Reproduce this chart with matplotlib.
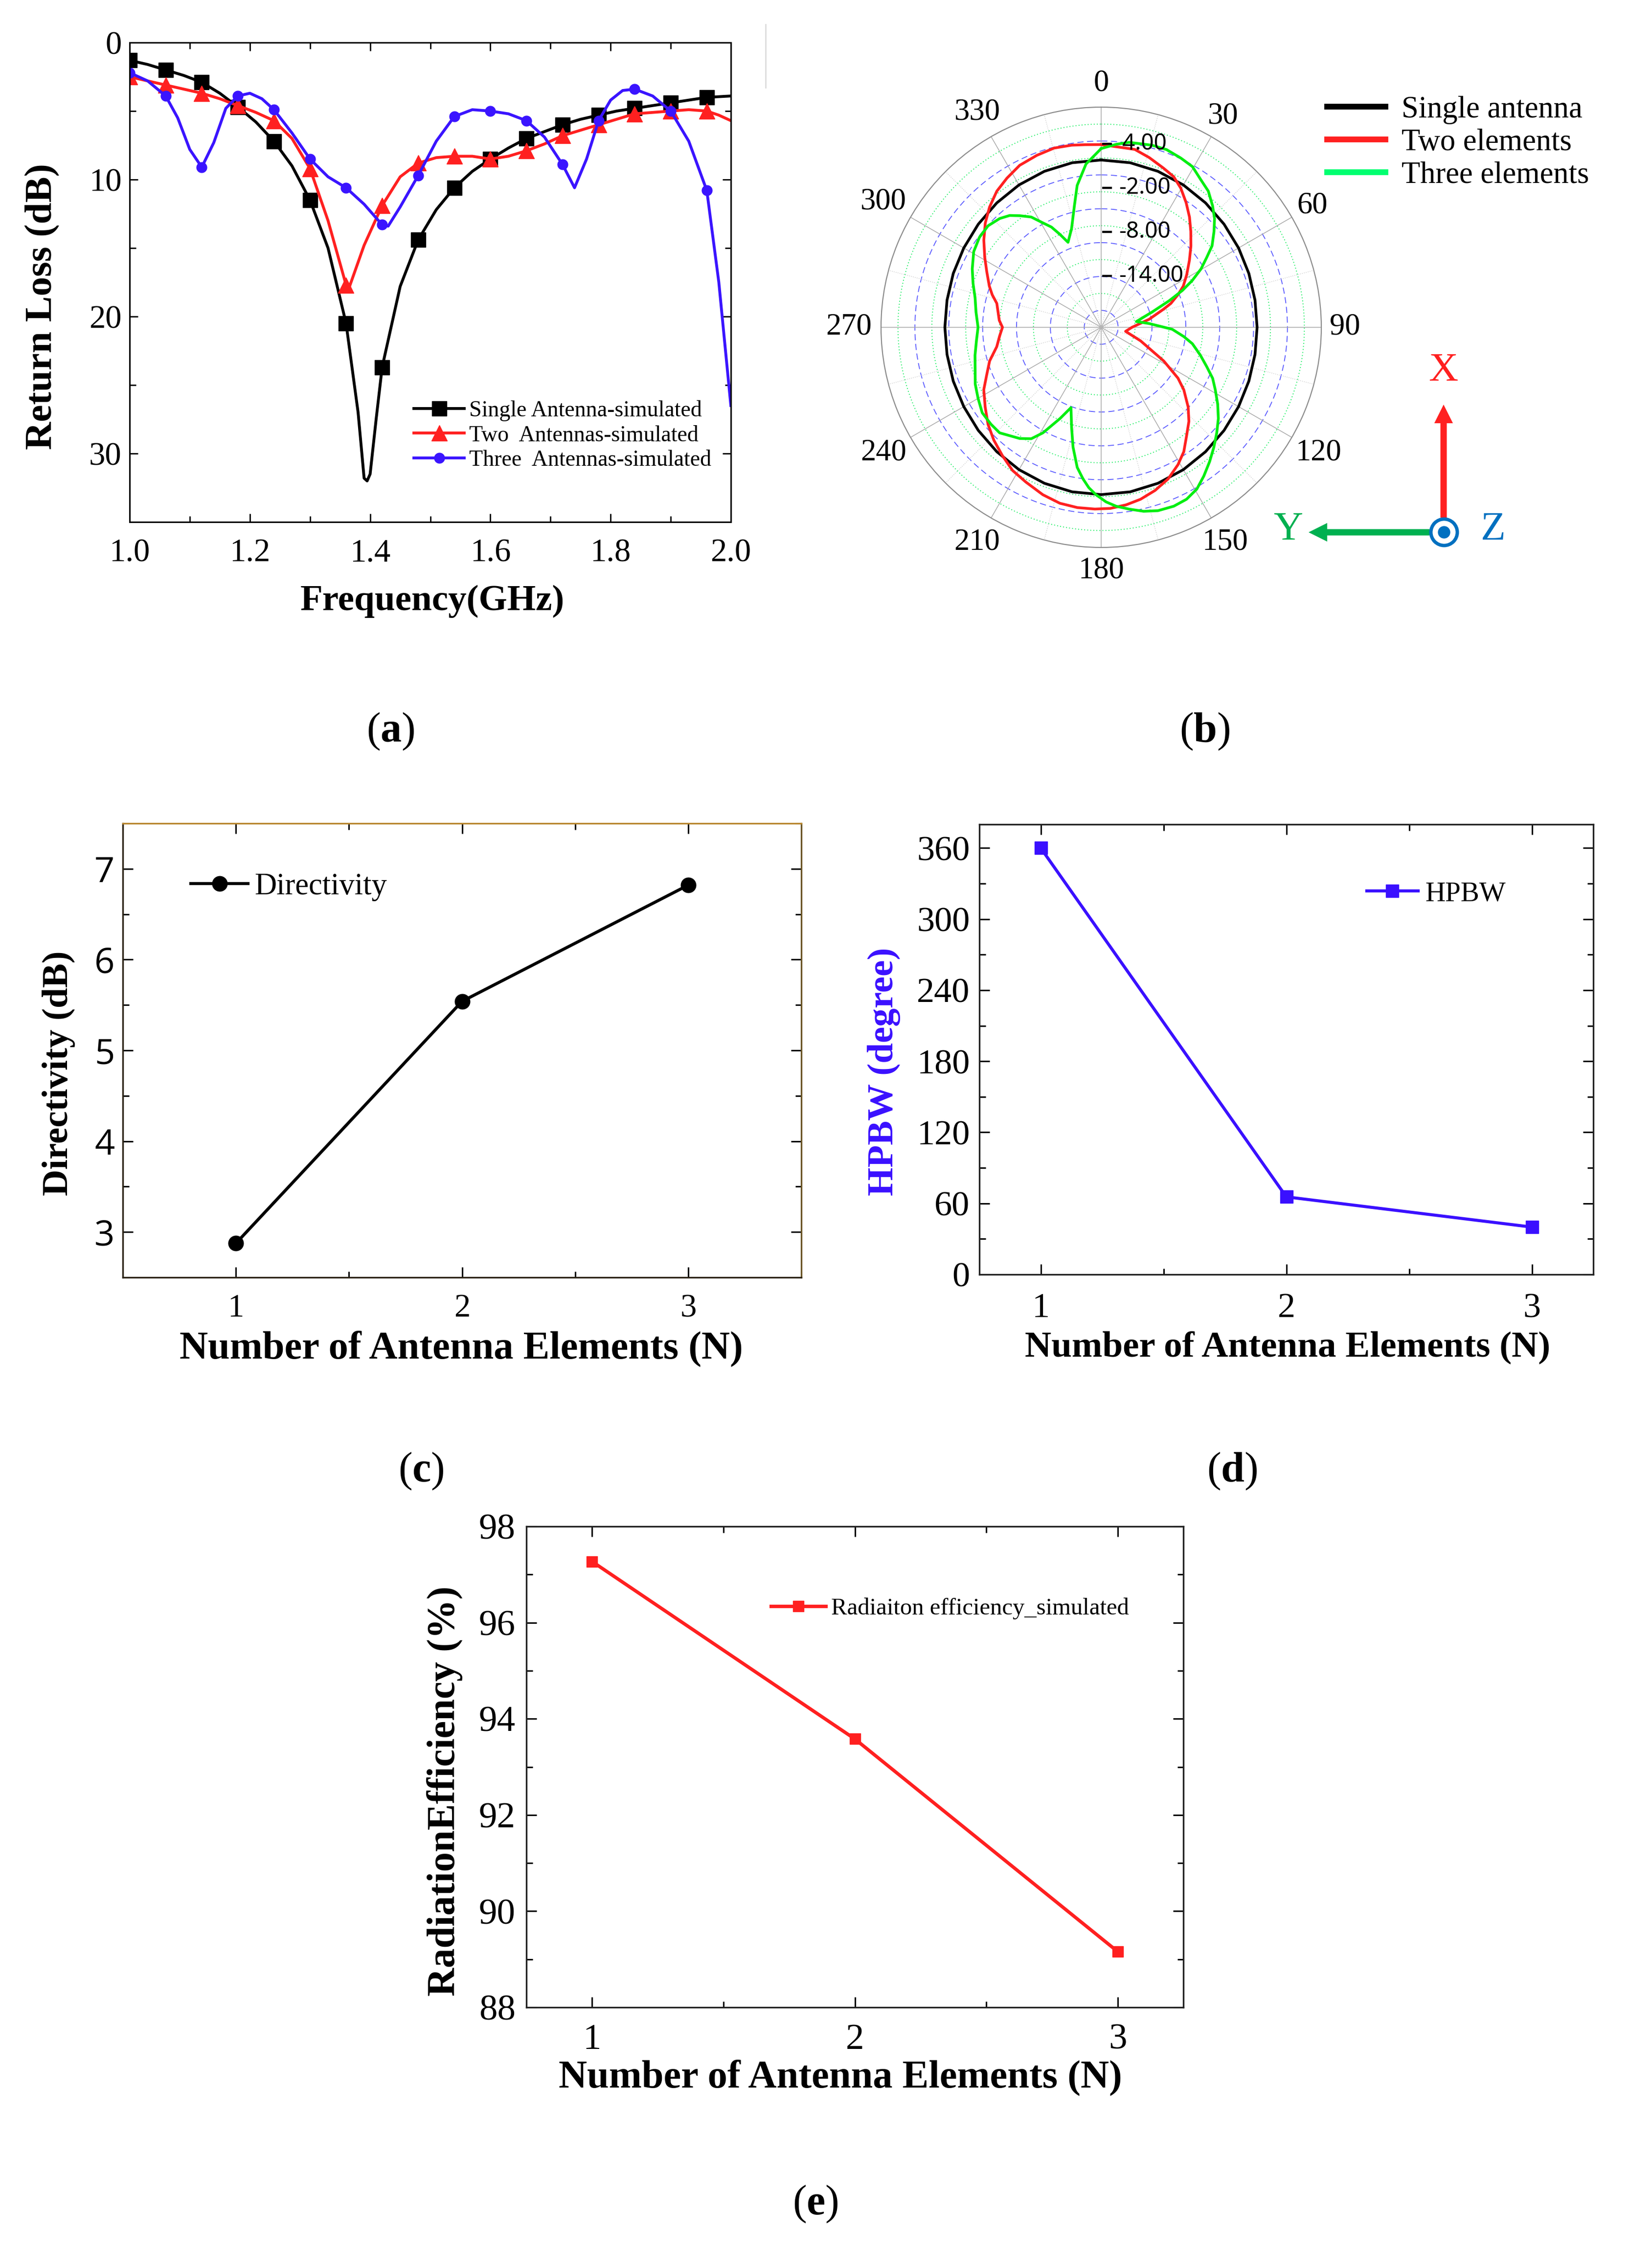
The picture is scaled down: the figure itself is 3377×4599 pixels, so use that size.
import numpy as np
import matplotlib
matplotlib.use('Agg')
import matplotlib.pyplot as plt
from matplotlib.lines import Line2D
from matplotlib.patches import FancyArrow, Circle
from matplotlib.ticker import MultipleLocator, FixedLocator
from matplotlib.transforms import offset_copy

W, H = 3377, 4599

# ---------------- (a) return loss ----------------
FREQ_MARKS = [1.00, 1.06, 1.12, 1.18, 1.24, 1.30, 1.36, 1.42, 1.48,
              1.54, 1.60, 1.66, 1.72, 1.78, 1.84, 1.90, 1.96]

freq_single = [1.00, 1.03, 1.06, 1.09, 1.12, 1.15, 1.18, 1.21, 1.24, 1.27,
               1.30, 1.33, 1.36, 1.38, 1.39, 1.395, 1.40, 1.41, 1.42, 1.45,
               1.48, 1.51, 1.54, 1.57, 1.60, 1.63, 1.66, 1.69, 1.72, 1.75,
               1.78, 1.81, 1.84, 1.87, 1.90, 1.93, 1.96, 2.00]
rl_single = [1.3, 1.6, 2.0, 2.4, 2.9, 3.7, 4.7, 5.8, 7.2, 9.0,
             11.5, 15.0, 20.5, 27.0, 31.8, 32.0, 31.5, 27.5, 23.7, 17.8,
             14.4, 12.2, 10.6, 9.4, 8.5, 7.7, 7.0, 6.5, 6.0, 5.6,
             5.3, 5.0, 4.8, 4.6, 4.4, 4.2, 4.0, 3.9]

freq_two = [1.00, 1.03, 1.06, 1.09, 1.12, 1.15, 1.18, 1.21, 1.24, 1.27,
            1.30, 1.33, 1.36, 1.365, 1.39, 1.42, 1.45, 1.48, 1.51, 1.54,
            1.57, 1.60, 1.63, 1.66, 1.69, 1.72, 1.75, 1.78, 1.81, 1.84,
            1.87, 1.90, 1.93, 1.96, 1.98, 2.00]
rl_two = [2.5, 2.8, 3.1, 3.4, 3.7, 4.1, 4.6, 5.1, 5.7, 7.0,
          9.2, 13.0, 17.7, 17.9, 14.8, 11.9, 9.8, 8.8, 8.4, 8.3,
          8.3, 8.5, 8.3, 7.9, 7.4, 6.8, 6.4, 6.0, 5.6, 5.2,
          5.1, 5.0, 4.9, 5.0, 5.3, 5.7]

freq_three = [1.00, 1.03, 1.06, 1.08, 1.10, 1.12, 1.14, 1.16, 1.18, 1.20,
              1.22, 1.24, 1.27, 1.30, 1.33, 1.36, 1.39, 1.42, 1.43, 1.45,
              1.48, 1.51, 1.54, 1.57, 1.60, 1.63, 1.66, 1.69, 1.72, 1.74,
              1.76, 1.78, 1.80, 1.82, 1.84, 1.87, 1.90, 1.93, 1.96, 1.98, 2.00]
rl_three = [2.2, 2.8, 3.9, 5.5, 7.8, 9.1, 7.3, 4.8, 3.9, 3.7,
            4.1, 4.9, 6.6, 8.5, 9.8, 10.6, 11.8, 13.3, 13.4, 12.0,
            9.7, 7.2, 5.4, 4.9, 5.0, 5.2, 5.7, 6.9, 8.9, 10.6,
            8.5, 5.7, 4.2, 3.5, 3.4, 3.9, 5.0, 7.2, 10.8, 17.5, 26.5]

# ---------------- (b) radiation pattern (dB) ----------------
ang_single = list(range(0, 361, 10))
pat_single = [1.8, 1.77, 1.62, 1.4, 1.13, 0.86, 0.62, 0.42, 0.29, 0.25,
              0.29, 0.42, 0.62, 0.86, 1.13, 1.4, 1.62, 1.77, 1.8,
              1.77, 1.62, 1.4, 1.13, 0.86, 0.62, 0.45, 0.33, 0.3,
              0.33, 0.45, 0.62, 0.86, 1.13, 1.4, 1.62, 1.77, 1.8]

ang_two = [0, 10.7, 15.8, 21.4, 25.7, 29.8, 34.3, 38.7, 43.1, 47.8, 52.8,
           58.4, 63.4, 67, 71.1, 73.8, 80.5, 90, 99.4, 109, 118.3, 123.5,
           127.1, 132.5, 137, 141.8, 146.4, 150.8, 156.2, 161.7, 167.1, 172,
           177.1, 182, 187.5, 193.2, 199.2, 206, 211.8, 217.5, 223.6, 229.4,
           235.5, 242, 247.2, 253.2, 259.5, 265.2, 270, 273.9, 282.9, 286.6,
           290.2, 295.9, 301, 306.6, 312, 317.1, 322.5, 327.7, 333.3, 339.5,
           345.3, 350.8, 355, 360]
pat_two = [3.9, 3.67, 3.04, 2.29, 1.78, 0.84, -0.45, -1.75, -3.12, -4.49,
           -5.9, -7.31, -8.49, -9.63, -10.96, -12.14, -14.37, -16.8, -17.63,
           -15.31, -11.31, -8.45, -6.88, -4.92, -3.47, -2.18, -0.65, 0.45,
           1.59, 2.41, 3.04, 3.43, 3.71, 3.78, 3.78, 3.63, 3.16, 2.45, 1.94,
           1.08, 0.22, -0.69, -1.82, -2.88, -4.06, -5.12, -6.53, -7.12, -7.55,
           -7.08, -6.41, -5.51, -4.76, -3.67, -2.49, -1.08, 0.25, 1.35, 2.37,
           3.04, 3.71, 4.02, 4.25, 4.14, 3.98, 3.9]

ang_three = [0, 0.6, 4.7, 8.6, 15.6, 20.2, 25.2, 29.6, 34, 38.2, 42.5, 46.2,
             49.7, 53.7, 56.5, 59.7, 62.8, 65.6, 68.6, 73.3, 80.7, 85.5, 91.6,
             96.4, 100.2, 105.7, 110.5, 114.6, 118.7, 123.4, 127.9, 132.4,
             136.8, 141.1, 145.4, 149.4, 153.6, 157.9, 162.8, 167, 171.3,
             175.2, 178.4, 181.8, 184.4, 186.8, 189.7, 193.2, 196.5, 200.6,
             204.3, 208.9, 212.1, 216.2, 220.2, 223.9, 228.7, 234.3, 240,
             245.8, 251.4, 257.5, 263.8, 270, 276.9, 283.2, 289, 294.4, 300.7,
             306.5, 311.9, 317, 320.7, 323.9, 327.6, 330.8, 333.6, 336.1,
             338.7, 343.3, 347.6, 350.4, 354.7, 360]
pat_three = [3.35, 3.43, 4.02, 4.49, 4.76, 4.8, 4.49, 4.18, 3.27, 2.61, 1.47,
             0.41, -0.84, -2.25, -3.75, -5.24, -7.04, -8.84, -11.0, -13.75,
             -16.14, -14.45, -11.31, -9.67, -8.37, -6.96, -5.63, -4.29, -3.27,
             -1.98, -0.76, 0.33, 1.43, 2.53, 3.63, 4.61, 5.16, 5.31, 5.16,
             4.73, 4.06, 3.47, 2.8, 1.82, 0.92, -0.18, -1.63, -4.22, -6.8,
             -9.31, -7.35, -4.57, -3.08, -2.22, -1.67, -1.04, -1.0, -1.04,
             -1.63, -2.18, -2.88, -3.39, -3.9, -4.22, -3.82, -3.35, -2.53,
             -1.71, -0.8, -0.37, -0.29, -0.73, -1.31, -2.18, -3.2, -4.69,
             -5.75, -7.16, -8.57, -6.96, -4.02, -1.39, 1.35, 3.35]

R_MIN, R_MAX = -21.0, 9.0
r_ticklabels = [4, -2, -8, -14]
theta_labels = [0, 30, 60, 90, 120, 150, 180, 210, 240, 270, 300, 330]

# ---------------- (c) (d) (e) ----------------
n_elements = [1, 2, 3]
directivity = [2.875, 5.54, 6.82]
hpbw = [360, 65.5, 40]
efficiency = [97.27, 93.58, 89.16]

plt.rcParams['font.family'] = ['Liberation Serif', 'DejaVu Serif']
plt.rcParams['mathtext.fontset'] = 'custom'
plt.rcParams['mathtext.rm'] = 'Liberation Serif'
plt.rcParams['mathtext.bf'] = 'Liberation Serif:bold'

fig = plt.figure(figsize=(W / 100, H / 100), dpi=100)
over = fig.add_axes([0, 0, 1, 1], zorder=10)
over.set_xlim(0, W)
over.set_ylim(H, 0)
over.axis('off')
over.patch.set_alpha(0)


def rect(l, t, r, b):
    return [l / W, 1 - b / H, (r - l) / W, (b - t) / H]


def frame(ax, lw=2.2, color='black'):
    for s in ax.spines.values():
        s.set_linewidth(lw)
        s.set_color(color)


def place_labels(ax, ylab, xlab):
    ax.yaxis.set_label_coords(ylab[0], ylab[1], transform=over.transData)
    ax.yaxis.label.set_va('center')
    ax.xaxis.set_label_coords(xlab[0], xlab[1], transform=over.transData)
    ax.xaxis.label.set_va('center')


# ======== (a) ========
ax = fig.add_axes(rect(265, 87, 1494, 1067))
series_a = [
    (freq_single, rl_single, 'black', 's', 21, 'Single Antenna-simulated'),
    (freq_two, rl_two, '#ff2020', '^', 23, 'Two  Antennas-simulated'),
    (freq_three, rl_three, '#3a14ff', 'o', 15, 'Three  Antennas-simulated'),
]
for f, v, c, m, ms, lab in series_a:
    idx = [i for i, x in enumerate(f) if any(abs(x - q) < 1e-6 for q in FREQ_MARKS)]
    ax.plot(f, v, color=c, lw=4.2, marker=m, ms=ms, markevery=idx, label=lab)
ax.set_xlim(1.0, 2.0)
ax.set_ylim(35, 0)
ax.xaxis.set_major_locator(MultipleLocator(0.2))
ax.xaxis.set_minor_locator(MultipleLocator(0.1))
ax.yaxis.set_major_locator(FixedLocator([0, 10, 20, 30]))
ax.yaxis.set_minor_locator(MultipleLocator(5))
ax.xaxis.set_major_formatter(lambda x, p: f'{x:.1f}')
ax.tick_params(which='both', direction='in', top=True, right=True, width=2)
ax.tick_params(which='major', length=12, labelsize=48)
ax.tick_params(which='minor', length=9)
ax.tick_params(axis='x', pad=24)
ax.tick_params(axis='y', pad=12)
frame(ax)
ax.set_ylabel('Return Loss (dB)', fontsize=57, fontweight='bold')
ax.set_xlabel('Frequency(GHz)', fontsize=54, fontweight='bold')
place_labels(ax, (87, 627), (884, 1229))
ax.legend(loc='center left', bbox_to_anchor=(846, 890), bbox_transform=over.transData,
          frameon=False, fontsize=33, borderpad=0, borderaxespad=0, handlelength=2.25,
          handletextpad=0.22, labelspacing=0.18, numpoints=1)
over.plot([1565, 1565], [50, 179], color='#dddddd', lw=2)

# ======== (b) ========
cx, cy, rad = 2251, 669, 450
axp = fig.add_axes(rect(cx - rad, cy - rad, cx + rad, cy + rad), projection='polar')
axp.set_theta_zero_location('N')
axp.set_theta_direction(-1)
axp.set_rlim(R_MIN, R_MAX)
axp.set_xticks([])
axp.set_yticks([])
axp.grid(False)
axp.spines['polar'].set_color('#8c8c8c')
axp.spines['polar'].set_linewidth(1.6)
tt = np.linspace(0, 2 * np.pi, 721)
step = (R_MAX - R_MIN) / 13
for k in range(1, 13):
    rr = R_MIN + k * step
    if k % 2:
        axp.plot(tt, np.full_like(tt, rr), color='#5a5aff', lw=1.3, dashes=(7, 4), zorder=1)
    else:
        axp.plot(tt, np.full_like(tt, rr), color='#22ee66', lw=1.4, dashes=(1, 2.2), zorder=1)
for a in range(0, 360, 15):
    t = np.deg2rad(a)
    if a % 30 == 0:
        axp.plot([t, t], [R_MIN, R_MAX], color='#a8a8a8', lw=1.1, zorder=1)
    else:
        axp.plot([t, t], [R_MIN, R_MAX], color='#cfcfcf', lw=1.1, ls=':', zorder=1)
kw = dict(lw=4, zorder=3, solid_joinstyle='round')
axp.plot(np.deg2rad(ang_single), pat_single, color='black', **kw)
axp.plot(np.deg2rad(ang_two), pat_two, color='#ff2020', **kw)
axp.plot(np.deg2rad(ang_three), pat_three, color='#00ee10', **kw)
px_per_db = rad / (R_MAX - R_MIN)
for a in theta_labels:
    s = str(a)
    rp = 498 + (18 * abs(np.sin(np.deg2rad(a))) if len(s) == 3 else 0)
    axp.text(np.deg2rad(a), R_MIN + rp / px_per_db, s, ha='center', va='center',
             fontsize=45, clip_on=False)
dash_tr = offset_copy(axp.transData, fig=fig, x=12, y=0, units='dots')
for v in r_ticklabels:
    axp.plot([0], [v], marker='_', ms=15, mew=3.2, color='black', transform=dash_tr,
             clip_on=False, zorder=5)
    s = f'{v:.2f}'
    txt_tr = offset_copy(axp.transData, fig=fig, x=43 if v > 0 else 36, y=0, units='dots')
    axp.text(0, v, s, ha='left', va='center', fontsize=33, family='Noto Sans',
             transform=txt_tr, zorder=5)
leg_handles = [Line2D([], [], color=c, lw=8.5) for c in ('black', '#ff2020', '#00ff70')]
fig.legend(leg_handles, ['Single antenna', 'Two elements', 'Three elements'],
           loc='center left', bbox_to_anchor=(2713, 292), bbox_transform=over.transData,
           frameon=False, fontsize=45, borderpad=0, borderaxespad=0, handlelength=1.9,
           handletextpad=0.53, labelspacing=0.14)

# coordinate system sketch
over.add_patch(FancyArrow(2951, 1058, 0, -231, width=13, head_width=38, head_length=38,
                          length_includes_head=True, color='#ff2020', lw=0))
over.add_patch(FancyArrow(2922, 1088, -247, 0, width=13, head_width=38, head_length=38,
                          length_includes_head=True, color='#00b050', lw=0))
over.add_patch(Circle((2952, 1088), 27, fill=False, ec='#0070c0', lw=5))
over.add_patch(Circle((2952, 1088), 12, color='#0070c0'))
over.text(2950, 758, 'X', color='#ff2020', fontsize=60, ha='center', va='center')
over.text(2633, 1083, 'Y', color='#00b050', fontsize=60, ha='center', va='center')
over.text(3052, 1083, 'Z', color='#0070c0', fontsize=60, ha='center', va='center')

# ======== (c) ========
ax = fig.add_axes(rect(251, 1683, 1638, 2611))
ax.plot(n_elements, directivity, color='black', lw=4.5, marker='o', ms=22, label='Directivity')
ax.set_xlim(0.5, 3.5)
ax.set_ylim(2.5, 7.5)
ax.xaxis.set_major_locator(FixedLocator([1, 2, 3]))
ax.xaxis.set_minor_locator(FixedLocator([0.5, 1.5, 2.5, 3.5]))
ax.yaxis.set_major_locator(MultipleLocator(1))
ax.yaxis.set_minor_locator(MultipleLocator(0.5))
ax.tick_params(which='both', direction='in', top=True, right=True, width=2.2)
ax.tick_params(which='major', length=15)
ax.tick_params(which='minor', length=9)
ax.tick_params(axis='x', labelsize=48, pad=24)
ax.tick_params(axis='y', labelsize=52, pad=12, labelfontfamily='Open Sans')
frame(ax, lw=2.4, color='#2b2316')
ax.spines['top'].set_color('#b8862e')
ax.spines['right'].set_color('#6b5526')
ax.set_ylabel('Directivity (dB)', fontsize=54, fontweight='bold')
ax.set_xlabel('Number of Antenna Elements (N)', fontsize=58, fontweight='bold')
place_labels(ax, (120, 2194), (943, 2757))
ax.legend(loc='center left', bbox_to_anchor=(390, 1813), bbox_transform=over.transData,
          frameon=False, fontsize=45, borderpad=0, borderaxespad=0,
          handlelength=117 / 62.5, handletextpad=0.22, numpoints=1)

# ======== (d) ========
blue = '#3a10ff'
ax = fig.add_axes(rect(2002, 1685, 3257, 2605))
ax.plot(n_elements, hpbw, color=blue, lw=4.5, marker='s', ms=19, label='HPBW')
ax.set_xlim(0.75, 3.25)
ax.set_ylim(0, 380)
ax.xaxis.set_major_locator(FixedLocator([1, 2, 3]))
ax.xaxis.set_minor_locator(FixedLocator([1.5, 2.5]))
ax.yaxis.set_major_locator(MultipleLocator(60))
ax.yaxis.set_minor_locator(MultipleLocator(30))
ax.tick_params(which='both', direction='in', top=True, right=True, width=2.2)
ax.tick_params(which='major', length=15, labelsize=52)
ax.tick_params(which='minor', length=9)
ax.tick_params(axis='x', pad=27)
ax.tick_params(axis='y', pad=14)
frame(ax, lw=2.4, color='#222222')
ax.set_ylabel('HPBW (degree)', fontsize=54, fontweight='bold', color=blue)
ax.set_xlabel('Number of Antenna Elements (N)', fontsize=54, fontweight='bold')
place_labels(ax, (1807, 2190), (2632, 2754))
ax.legend(loc='center left', bbox_to_anchor=(2794, 1827), bbox_transform=over.transData,
          frameon=False, fontsize=41, borderpad=0, borderaxespad=0,
          handlelength=105 / 57, handletextpad=0.25, numpoints=1)

# ======== (e) ========
red = '#ff2020'
ax = fig.add_axes(rect(1076, 3120, 2419, 4103))
ax.plot(n_elements, efficiency, color=red, lw=5, marker='s', ms=16,
        label='Radiaiton efficiency_simulated')
ax.set_xlim(0.75, 3.25)
ax.set_ylim(88, 98)
ax.xaxis.set_major_locator(FixedLocator([1, 2, 3]))
ax.xaxis.set_minor_locator(FixedLocator([1.5, 2.5]))
ax.yaxis.set_major_locator(MultipleLocator(2))
ax.yaxis.set_minor_locator(MultipleLocator(1))
ax.tick_params(which='both', direction='in', top=True, right=True, width=2.2)
ax.tick_params(which='major', length=15, labelsize=54)
ax.tick_params(which='minor', length=9)
ax.tick_params(axis='x', pad=24)
ax.tick_params(axis='y', pad=16)
frame(ax, lw=2.4, color='#222222')
ax.set_ylabel('RadiationEfficiency (%)', fontsize=58, fontweight='bold')
ax.set_xlabel('Number of Antenna Elements (N)', fontsize=58, fontweight='bold')
place_labels(ax, (909, 3661), (1718, 4247))
ax.legend(loc='center left', bbox_to_anchor=(1576, 3288), bbox_transform=over.transData,
          frameon=False, fontsize=35, borderpad=0, borderaxespad=0,
          handlelength=112 / 48.6, handletextpad=0.22, numpoints=1)

# panel letters
for letter, (x, y) in zip('abcde', [(798, 1495), (2463, 1495), (861, 3007),
                                     (2519, 3007), (1667, 4505)]):
    over.text(x, y, r'$(\mathbf{%s})$' % letter, fontsize=62, ha='center', va='center')

fig.savefig('out.png', dpi=100)
